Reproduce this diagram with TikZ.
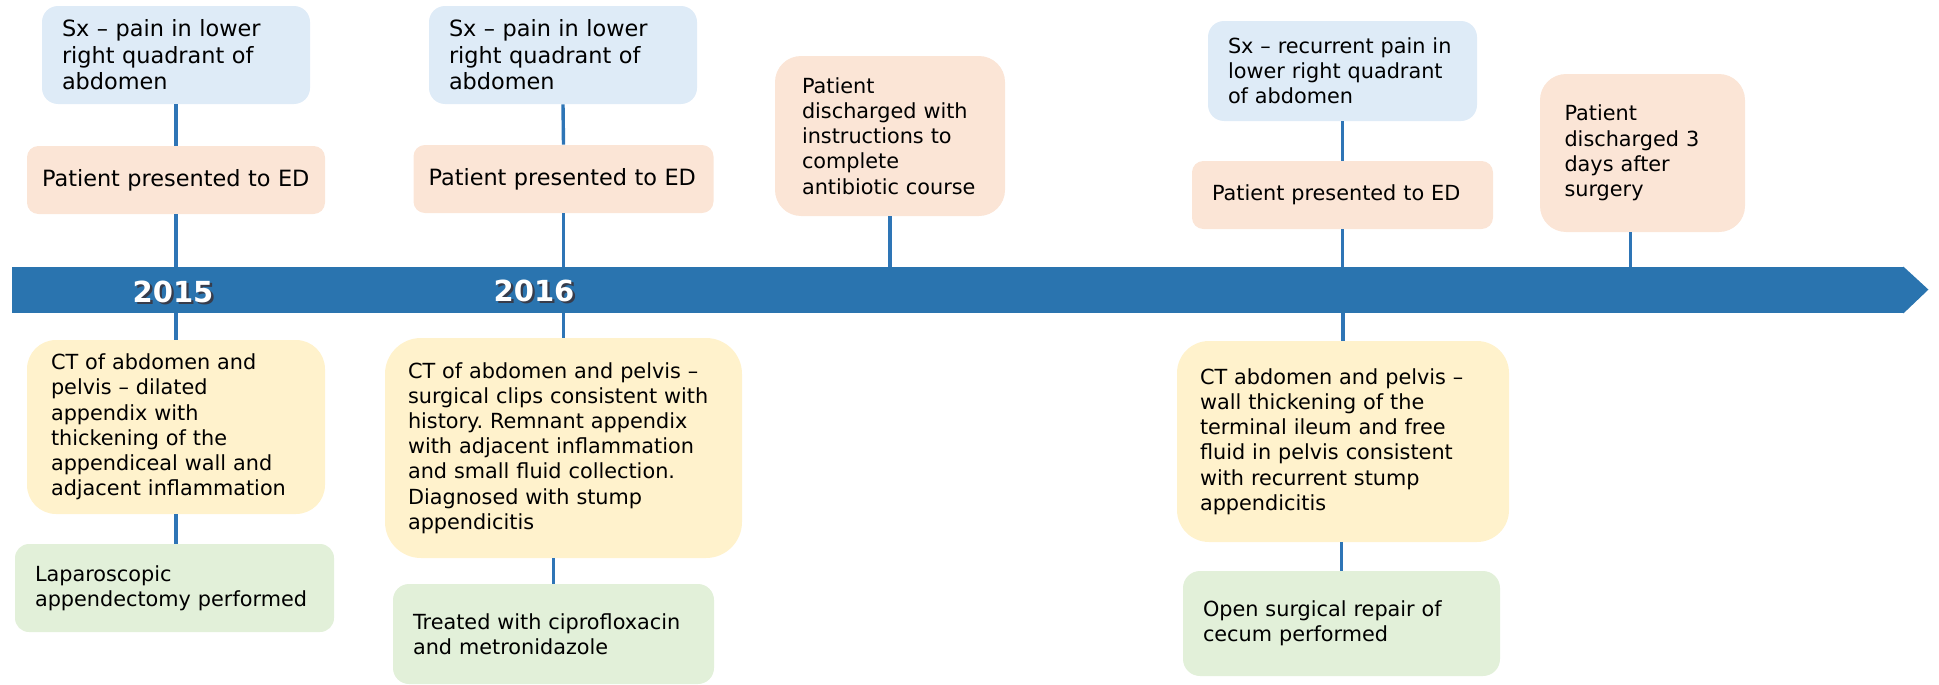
\documentclass[tikz,border=0pt]{standalone}
\usepackage{fontspec}
\setmainfont{DejaVu Sans}
\usepackage{tikz}

\definecolor{sxblue}{RGB}{222,235,247}
\definecolor{edpeach}{RGB}{251,229,214}
\definecolor{ctyellow}{RGB}{255,242,204}
\definecolor{txgreen}{RGB}{226,240,217}
\definecolor{barblue}{RGB}{42,116,175}
\definecolor{stemblue}{RGB}{46,117,182}
\definecolor{yearshade}{RGB}{55,60,75}
\newcommand{\yeartext}[1]{\rlap{\hspace{1.2pt}\raisebox{-1.2pt}{\textcolor{yearshade}{#1}}}#1}
\frenchspacing

\begin{document}
\begin{tikzpicture}[x=0.5pt,y=-0.5pt]
    \tikzstyle{every node} = [font=\fontsize{10.4pt}{12.6pt}\selectfont]
    \tikzstyle{bigtext} = [font=\fontsize{11.2pt}{13.2pt}\selectfont]
    \tikzstyle{event} = [rectangle, align=left, inner xsep=10pt, inner ysep=0pt]
    \tikzstyle{sx} = [event, fill=sxblue, rounded corners=8pt, minimum height=49pt]
    \tikzstyle{ed} = [event, fill=edpeach, rounded corners=5.7pt, minimum height=34pt]
    \tikzstyle{ct} = [event, fill=ctyellow, rounded corners=15pt]
    \tikzstyle{tx} = [event, fill=txgreen, rounded corners=8pt]
    \tikzstyle{year} = [text=white, inner sep=0pt, font=\bfseries\fontsize{14.5pt}{16pt}\selectfont]
    \tikzstyle{stem} = [draw=stemblue, line width=1.7pt]
    \useasboundingbox (0,0) rectangle (1939,685);

    % time line
    \node[fill=barblue, minimum width=946pt, minimum height=23pt, inner sep=0pt] (bar) at (958,290) {};
    \fill[barblue] ([xshift=-0.5pt]bar.north east) -- ++(25,23) -- ([xshift=-0.5pt]bar.south east) -- cycle;
    \node[year] (yr1) at (173,293) {\yeartext{2015}};
    \node[year] (yr2) at (534,292) {\yeartext{2016}};

    % place nodes above the line
    \node[sx, bigtext, text width=114pt] (sx1) at (176,55) {Sx – pain in lower\\right quadrant of\\abdomen};
    \node[ed, bigtext, text width=134pt, inner xsep=7.5pt] (ed1) at (176,180) {Patient presented to ED};
    \node[sx, bigtext, text width=114pt] (sx2) at (563,55) {Sx – pain in lower\\right quadrant of\\abdomen};
    \node[ed, bigtext, text width=135pt, inner xsep=7.5pt] (ed2) at (563.5,179) {Patient presented to ED};
    \node[ed, text width=88pt, inner xsep=13.5pt, minimum height=80pt, rounded corners=13pt] (dc2) at (890,136) {Patient\\discharged with\\instructions to\\complete\\antibiotic course};
    \node[sx, text width=114.5pt, minimum height=50pt] (sx3) at (1342.5,71) {Sx – recurrent pain in\\lower right quadrant\\of abdomen};
    \node[ed, text width=130.5pt] (ed3) at (1342.5,195) {Patient presented to ED};
    \node[ed, text width=78pt, inner xsep=12.25pt, minimum height=79pt, rounded corners=13pt] (dc3) at (1642.5,153) {Patient\\discharged 3\\days after\\surgery};

    % place nodes below the line
    \node[ct, text width=125pt, inner xsep=12pt, minimum height=87pt, rounded corners=14.5pt] (ct1) at (176,427) {CT of abdomen and\\pelvis – dilated\\appendix with\\thickening of the\\appendiceal wall and\\adjacent inflammation};
    \node[tx, text width=139.5pt, minimum height=44pt, rounded corners=7pt] (tx1) at (174.5,588) {Laparoscopic\\appendectomy performed};
    \node[ct, text width=155.5pt, inner xsep=11.5pt, minimum height=110pt, rounded corners=18pt] (ct2) at (563.5,448) {CT of abdomen and pelvis –\\surgical clips consistent with\\history. Remnant appendix\\with adjacent inflammation\\and small fluid collection.\\Diagnosed with stump\\appendicitis};
    \node[tx, text width=140.5pt, minimum height=50pt] (tx2) at (553.5,634) {Treated with ciprofloxacin\\and metronidazole};
    \node[ct, text width=143pt, inner xsep=11.5pt, minimum height=100.5pt, rounded corners=16pt] (ct3) at (1343,441.5) {CT abdomen and pelvis –\\wall thickening of the\\terminal ileum and free\\fluid in pelvis consistent\\with recurrent stump\\appendicitis};
    \node[tx, text width=138.5pt, minimum height=52.5pt, rounded corners=8.5pt] (tx3) at (1341.5,623.5) {Open surgical repair of\\cecum performed};

    % Connections
    \draw[stem] (sx1.south) -- (ed1.north);
    \draw[stem] (ed1.south) -- (ed1.south |- bar.north);
    \draw[stem] (ct1.north |- bar.south) -- (ct1.north);
    \draw[stem] (ct1.south) -- (ct1.south |- tx1.north);

    \draw[stem] (sx2.south) -- (ed2.north);
    \draw[stem] (ed2.south) -- (ed2.south |- bar.north);
    \draw[stem] (ct2.north |- bar.south) -- (ct2.north);
    \draw[stem] (tx2.north |- ct2.south) -- (tx2.north);
    \draw[stem] (dc2.south) -- (dc2.south |- bar.north);

    \draw[stem] (sx3.south) -- (ed3.north);
    \draw[stem] (ed3.south) -- (ed3.south |- bar.north);
    \draw[stem] (ct3.north |- bar.south) -- (ct3.north);
    \draw[stem] (tx3.north |- ct3.south) -- (tx3.north);
    \draw[stem] ([xshift=-6pt]dc3.south) -- ([xshift=-6pt]dc3.south |- bar.north);
\end{tikzpicture}
\end{document}
